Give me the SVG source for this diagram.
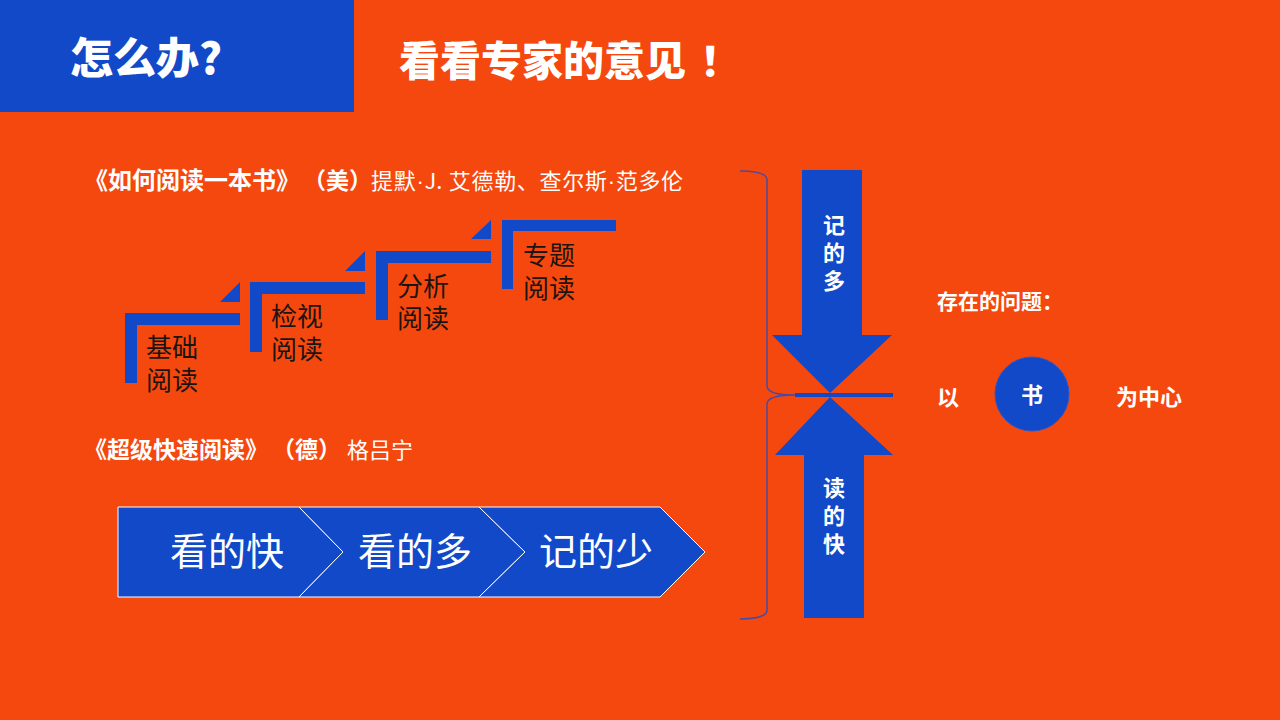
<svg xmlns="http://www.w3.org/2000/svg" width="1280" height="720" viewBox="0 0 1280 720">
  <style>
    .cjk { font-family: "Noto Sans CJK SC", "Liberation Sans", sans-serif; }
    .lat { font-family: "Liberation Sans", "Noto Sans CJK SC", sans-serif; }
    .w { fill: #ffffff; }
    .b { font-weight: bold; }
    .blue { fill: #1249C9; }
    .step { font-size: 26px; fill: #1c1410; }
    .chev { fill: #1249C9; stroke: #ffffff; stroke-width: 1; }
    .chevtxt { font-size: 38px; fill: #ffffff; text-anchor: middle; }
    .arrtxt { font-size: 22px; fill: #ffffff; font-weight: bold; text-anchor: middle; }
  </style>
  <rect x="0" y="0" width="1280" height="720" fill="#F5480E"/>

  <g id="header">
    <rect x="0" y="0" width="354" height="112" class="blue"/>
    <text x="70" y="74" class="cjk w" font-size="43" font-weight="900">怎么办?</text>
    <text x="399" y="76" class="cjk w" font-size="41" font-weight="900">看看专家的意见<tspan dx="14">！</tspan></text>
  </g>

  <g id="book1-title">
    <text x="84" y="189" class="cjk w b" font-size="24">《如何阅读一本书》</text>
    <text x="303" y="189" class="cjk w b" font-size="23">（美）</text>
    <text x="371" y="189" class="cjk w" font-size="22" letter-spacing="0.7">提默<tspan class="lat">·</tspan>J. 艾德勒、查尔斯<tspan class="lat">·</tspan>范多伦</text>
  </g>

  <g id="step1">
    <path d="M125,313 H240 V325 H137 V383 H125 Z" class="blue"/>
    <polygon points="220,302 240,282 240,302" class="blue"/>
    <text class="cjk step"><tspan x="146" y="357">基础</tspan><tspan x="146" y="390">阅读</tspan></text>
  </g>
  <g id="step2">
    <path d="M250,282 H365 V294 H262 V352 H250 Z" class="blue"/>
    <polygon points="345,271 365,251 365,271" class="blue"/>
    <text class="cjk step"><tspan x="271" y="326">检视</tspan><tspan x="271" y="359">阅读</tspan></text>
  </g>
  <g id="step3">
    <path d="M376,251 H491 V263 H388 V320 H376 Z" class="blue"/>
    <polygon points="471,239 491,220 491,239" class="blue"/>
    <text class="cjk step"><tspan x="397" y="296">分析</tspan><tspan x="397" y="328">阅读</tspan></text>
  </g>
  <g id="step4">
    <path d="M502,220 H616 V231 H513 V289 H502 Z" class="blue"/>
    <text class="cjk step"><tspan x="523" y="265">专题</tspan><tspan x="523" y="298">阅读</tspan></text>
  </g>

  <g id="book2-title">
    <text x="84" y="458" class="cjk w b" font-size="23">《超级快速阅读》</text>
    <text x="272" y="458" class="cjk w b" font-size="23">（德）</text>
    <text x="347" y="458" class="cjk w" font-size="22">格吕宁</text>
  </g>

  <g id="chevron1">
    <polygon points="118,507 299,507 343,552 299,597 118,597" class="chev"/>
    <text x="227" y="565" class="cjk chevtxt">看的快</text>
  </g>
  <g id="chevron2">
    <polygon points="299,507 479,507 525,552 479,597 299,597 343,552" class="chev"/>
    <text x="415" y="565" class="cjk chevtxt">看的多</text>
  </g>
  <g id="chevron3">
    <polygon points="479,507 660,507 705,552 660,597 479,597 525,552" class="chev"/>
    <text x="596" y="565" class="cjk chevtxt">记的少</text>
  </g>

  <g id="connectors">
    <path d="M740,171 Q767,171 767,180 V386 Q767,395 795,395 Q767,395 767,404 V610 Q767,619 740,619" fill="none" stroke="#4a4aa0" stroke-width="1.5"/>
    <rect x="795" y="393" width="98" height="4" class="blue"/>
  </g>

  <g id="arrow-down">
    <polygon points="802,170 862,170 862,335 892,335 830,393 772,335 802,335" class="blue"/>
    <text class="cjk arrtxt"><tspan x="834" y="233">记</tspan><tspan x="834" y="261">的</tspan><tspan x="834" y="289">多</tspan></text>
  </g>
  <g id="arrow-up">
    <polygon points="830,397 893,455 864,455 864,618 804,618 804,455 775,455" class="blue"/>
    <text class="cjk arrtxt"><tspan x="834" y="496">读</tspan><tspan x="834" y="524">的</tspan><tspan x="834" y="552">快</tspan></text>
  </g>

  <g id="problem">
    <text x="937" y="309" class="cjk w b" font-size="21">存在的问题：</text>
    <text x="937" y="405" class="cjk w b" font-size="22">以</text>
    <circle cx="1032" cy="394" r="37" class="blue" stroke="#2a55c8" stroke-width="1"/>
    <text x="1032" y="403" class="cjk w b" font-size="22" text-anchor="middle">书</text>
    <text x="1116" y="405" class="cjk w b" font-size="22">为中心</text>
  </g>
</svg>
